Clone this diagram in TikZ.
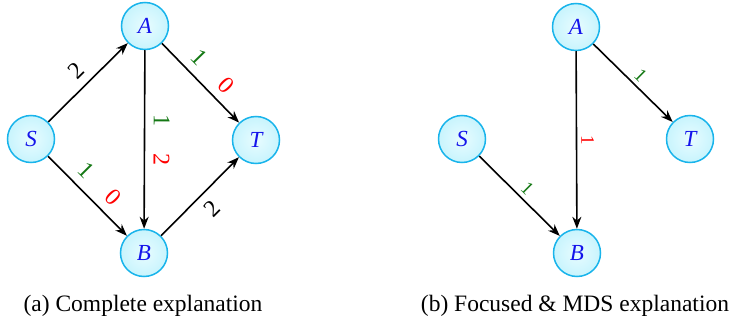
\documentclass[tikz,border=0pt]{standalone}
\usepackage{fontspec}
\setmainfont{Liberation Serif}
\usetikzlibrary{arrows.meta}
\definecolor{nodeborder}{RGB}{25,180,235}
\definecolor{nodefillin}{RGB}{232,252,255}
\definecolor{nodefill}{RGB}{200,244,253}
\definecolor{lblgreen}{RGB}{20,120,20}
\definecolor{lblred}{RGB}{255,0,0}
\definecolor{lblblue}{RGB}{20,20,235}
\tikzset{
  vtx/.style={circle, draw=nodeborder, line width=1.5pt, minimum size=47pt, inner sep=0pt,
    inner color=nodefillin, outer color=nodefill,
    font=\fontsize{23}{28}\selectfont\itshape, text=lblblue},
  arr/.style={line width=1.6pt, -{Stealth[length=12pt,width=9pt]}},
  biglbl/.style={sloped, allow upside down, inner sep=8.5pt, font=\fontsize{24}{28}\selectfont},
  smalllbl/.style={sloped, allow upside down, inner sep=4pt, font=\fontsize{19}{22}\selectfont},
  caption/.style={font=\fontsize{23.5}{28}\selectfont, inner sep=0pt}
}
\newcommand{\gcol}[1]{\textcolor{lblgreen}{#1}}
\newcommand{\rcol}[1]{\textcolor{lblred}{#1}}
\begin{document}
\begin{tikzpicture}[x=1pt,y=-1pt]
\useasboundingbox (0,0) rectangle (731,326);
% left graph
\node[vtx] (S1) at (31,139) {S};
\node[vtx] (A1) at (145,26) {A};
\node[vtx] (T1) at (256,140) {T};
\node[vtx] (B1) at (144,253) {B};
\draw[arr] (S1) -- node[biglbl, above] {2} (A1);
\draw[arr] (S1) -- node[biglbl, above] {\gcol{1}\hspace{27pt}\rcol{0}} (B1);
\draw[arr] (A1) -- node[biglbl, above] {\gcol{1}\hspace{27pt}\rcol{0}} (T1);
\draw[arr] (A1) -- node[biglbl, above] {\gcol{1}\hspace{27pt}\rcol{2}} (B1);
\draw[arr] (B1) -- node[biglbl, below] {2} (T1);
% right graph
\node[vtx] (S2) at (462,139) {S};
\node[vtx] (A2) at (576,27) {A};
\node[vtx] (T2) at (690,139) {T};
\node[vtx] (B2) at (577,253) {B};
\draw[arr] (A2) -- node[smalllbl, above] {\gcol{1}} (T2);
\draw[arr] (A2) -- node[smalllbl, above] {\rcol{1}} (B2);
\draw[arr] (S2) -- node[smalllbl, above] {\gcol{1}} (B2);
% captions
\node[caption] (capa) at (143,306) {(a) Complete explanation};
\node[caption] (capb) at (575,306) {(b) Focused \& MDS explanation};
\end{tikzpicture}
\end{document}
